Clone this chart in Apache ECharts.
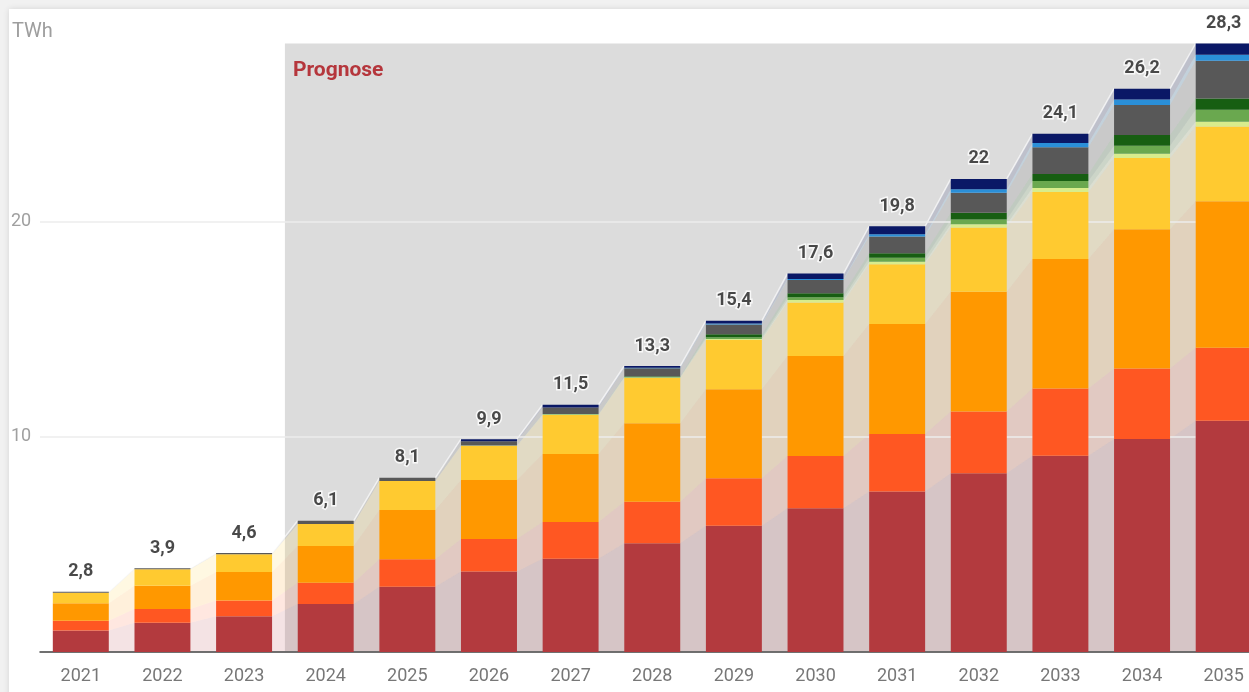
<!DOCTYPE html>
<html>
<head>
<meta charset="utf-8">
<title>Strombedarf Prognose</title>
<script src="https://cdn.jsdelivr.net/npm/echarts@6/dist/echarts.min.js"></script>
<style>
  html, body { margin: 0; padding: 0; background: #f1f1f1; overflow: hidden; }
  #card { position: absolute; left: 9px; top: 9px; width: 1300px; height: 760px; background: #fff;
          box-shadow: 0 0 6px rgba(0,0,0,0.12); }
  #chart { position: absolute; left: 0; top: 0; width: 1290px; height: 692px; }
</style>
</head>
<body>
<div id="card"></div>
<div id="chart"></div>
<script>
// Years on the category axis
const years = ['2021','2022','2023','2024','2025','2026','2027','2028','2029','2030','2031','2032','2033','2034','2035'];

// Stacked layers in TWh, bottom to top
const deepRed     = [1.00, 1.36, 1.66, 2.23, 3.04, 3.74, 4.34, 5.06, 5.87, 6.68, 7.46, 8.31, 9.13, 9.91, 10.75];
const redOrange   = [0.45, 0.64, 0.74, 0.99, 1.27, 1.52, 1.71, 1.93, 2.21, 2.44, 2.68, 2.87, 3.12, 3.27, 3.40];
const orange      = [0.82, 1.08, 1.32, 1.71, 2.29, 2.74, 3.16, 3.65, 4.14, 4.65, 5.12, 5.58, 6.03, 6.48, 6.81];
const amber       = [0.48, 0.77, 0.83, 1.02, 1.35, 1.58, 1.81, 2.10, 2.29, 2.49, 2.77, 2.98, 3.11, 3.32, 3.48];
const lime        = [0, 0, 0, 0, 0, 0.02, 0.03, 0.03, 0.05, 0.11, 0.12, 0.15, 0.19, 0.19, 0.22];
const leafGreen   = [0, 0, 0, 0, 0, 0, 0.02, 0.03, 0.08, 0.13, 0.19, 0.23, 0.32, 0.37, 0.56];
const forestGreen = [0, 0, 0, 0, 0, 0, 0, 0.02, 0.14, 0.18, 0.20, 0.31, 0.33, 0.50, 0.52];
const slate       = [0.05, 0.05, 0.05, 0.15, 0.15, 0.20, 0.30, 0.38, 0.45, 0.62, 0.78, 0.93, 1.25, 1.40, 1.76];
const sky         = [0, 0, 0, 0, 0, 0, 0, 0.02, 0.05, 0.05, 0.11, 0.16, 0.19, 0.25, 0.28];
const navy        = [0, 0, 0, 0, 0, 0.10, 0.13, 0.08, 0.12, 0.25, 0.37, 0.48, 0.43, 0.51, 0.52];

// Index of the first forecast year
const forecastStart = 3;

const layers = [
  { data: deepRed,     color: '#b33a3e' },
  { data: redOrange,   color: '#ff5722' },
  { data: orange,      color: '#ff9800' },
  { data: amber,       color: '#ffca30' },
  { data: lime,        color: '#d8ec8c' },
  { data: leafGreen,   color: '#6aa84f' },
  { data: forestGreen, color: '#175e12' },
  { data: slate,       color: '#585858' },
  { data: sky,         color: '#2a8fd8' },
  { data: navy,        color: '#0a1866' }
];

const BAR_RATIO = 0.686;

// cumulative stack boundaries: cum[k][i] = bottom of layer k in year i
const cum = [];
{
  const run = years.map(() => 0);
  layers.forEach(l => {
    cum.push(run.slice());
    l.data.forEach((v, i) => { run[i] += v; });
  });
  cum.push(run.slice());
}
const totals = cum[cum.length - 1];
const yMax = Math.max.apply(null, totals);

function fmt(v) {
  return String(parseFloat(v.toFixed(1))).replace('.', ',');
}

const chart = echarts.init(document.getElementById('chart'), null, { renderer: 'canvas' });

const barSeries = layers.map((l, k) => ({
  type: 'bar',
  stack: 'total',
  data: l.data,
  barWidth: (BAR_RATIO * 100) + '%',
  itemStyle: { color: l.color },
  z: 3,
  silent: true
}));

// Shaded forecast region, starting between the last actual year and the first forecast year
const forecastBg = {
  type: 'custom',
  z: -2,
  silent: true,
  data: [[forecastStart]],
  renderItem: function (params, api) {
    const cs = params.coordSys;
    const bw = api.size([1, 0])[0];
    const x0 = api.coord([forecastStart, 0])[0] - bw / 2;
    return {
      type: 'group',
      children: [
        { type: 'rect', shape: { x: x0, y: cs.y, width: cs.x + cs.width - x0, height: cs.height },
          style: { fill: '#dcdcdc' } },
        { type: 'text', x: x0 + 8, y: cs.y + 27,
          style: { text: 'Prognose', fill: '#b5363c', font: 'bold 21px Roboto', verticalAlign: 'middle' } }
      ]
    };
  }
};

// Translucent connectors between neighbouring bars, one band per layer
const connectors = {
  type: 'custom',
  z: -1,
  silent: true,
  data: years.slice(0, -1).map((_, i) => [i]),
  renderItem: function (params, api) {
    const i = api.value(0);
    const half = api.size([1, 0])[0] * BAR_RATIO / 2;
    const xa = api.coord([i, 0])[0] + half;
    const xb = api.coord([i + 1, 0])[0] - half;
    const children = [];
    layers.forEach((l, k) => {
      const b0 = api.coord([i, cum[k][i]])[1];
      const t0 = api.coord([i, cum[k + 1][i]])[1];
      const b1 = api.coord([i + 1, cum[k][i + 1]])[1];
      const t1 = api.coord([i + 1, cum[k + 1][i + 1]])[1];
      if (Math.abs(t0 - b0) < 0.01 && Math.abs(t1 - b1) < 0.01) return;
      children.push({
        type: 'polygon',
        shape: { points: [[xa, b0], [xa, t0], [xb, t1], [xb, b1]] },
        style: { fill: l.color, opacity: 0.14 }
      });
    });
    const ya = api.coord([i, totals[i]])[1];
    const yb = api.coord([i + 1, totals[i + 1]])[1];
    children.push({
      type: 'polyline',
      shape: { points: [[xa, ya], [xb, yb]] },
      style: { stroke: 'rgba(255,255,255,0.7)', lineWidth: 1.5, fill: null }
    });
    return { type: 'group', children: children };
  }
};

// Total value above each stack
const totalLabels = {
  type: 'scatter',
  data: totals,
  symbolSize: 0,
  z: 6,
  silent: true,
  label: {
    show: true,
    position: 'top',
    distance: 11,
    formatter: p => fmt(p.value),
    fontFamily: 'Roboto',
    fontWeight: 'bold',
    fontSize: 18,
    color: '#1c1c1c',
    textBorderColor: '#fff',
    textBorderWidth: 3
  }
};

chart.setOption({
  animation: false,
  backgroundColor: 'transparent',
  textStyle: { fontFamily: 'Roboto' },
  grid: { left: 40, top: 43.5, width: 1224.5, height: 608.5, containLabel: false },
  graphic: [{
    type: 'text', left: 12, top: 22,
    style: { text: 'TWh', fill: '#9e9e9e', font: '20px Roboto' }
  }],
  xAxis: {
    type: 'category',
    data: years,
    axisTick: { show: false },
    axisLine: { lineStyle: { color: '#454545', width: 1.5 } },
    axisLabel: { color: '#777', fontSize: 18, margin: 15 }
  },
  yAxis: {
    type: 'value',
    min: 0,
    max: yMax,
    interval: 10,
    axisLine: { show: false },
    axisTick: { show: false },
    axisLabel: {
      color: '#a0a0a0', fontSize: 18, align: 'left', margin: 29,
      showMaxLabel: false,
      formatter: v => (v === 0 || v % 10 !== 0) ? '' : String(v)
    },
    splitLine: { show: true, showMaxLine: false, lineStyle: { color: '#ececec', width: 1.5 } }
  },
  series: [forecastBg, connectors].concat(barSeries, [totalLabels])
});
</script>
</body>
</html>
